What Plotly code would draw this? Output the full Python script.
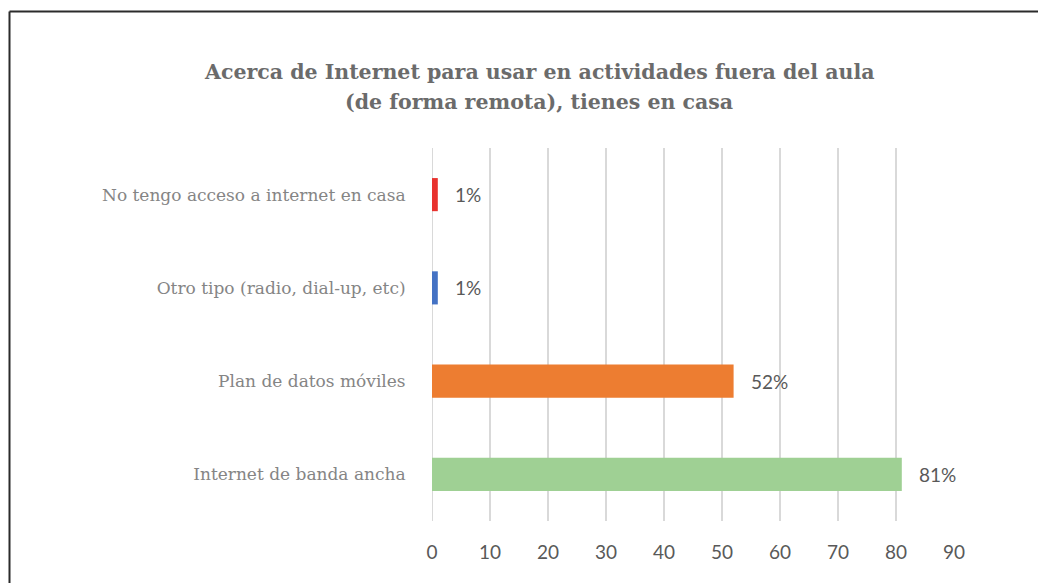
import plotly.graph_objects as go

# Survey answers, listed top to bottom
categories = [
    "No tengo acceso a internet en casa",
    "Otro tipo (radio, dial-up, etc)",
    "Plan de datos móviles",
    "Internet de banda ancha",
]
values = [1, 1, 52, 81]
bar_colors = ["#e8322e", "#4472c4", "#ed7d31", "#9fd094"]
x_ticks = [0, 10, 20, 30, 40, 50, 60, 70, 80, 90]
title_lines = [
    "Acerca de Internet para usar en actividades fuera del aula",
    "(de forma remota), tienes en casa",
]

W, H = 1038, 583
L, R, T, B = 432, 84, 148, 62
plot_w = W - L - R
plot_h = H - T - B


def px_to_paper_x(px):
    return (px - L) / plot_w


def px_to_paper_y(py):
    return (H - B - py) / plot_h


fig = go.Figure(
    go.Bar(
        x=values,
        y=categories,
        orientation="h",
        marker=dict(color=bar_colors, line=dict(width=0)),
        width=0.355,
        hoverinfo="x+y",
    )
)

# Percentage labels beside each bar
for cat, val in zip(categories, values):
    fig.add_annotation(
        x=val, y=cat, xref="x", yref="y",
        text=f"{val}%", showarrow=False,
        xanchor="left", xshift=15,
        font=dict(family="Lato, Open Sans, sans-serif", size=19, color="#595959"),
    )

# Title, one annotation per line
for line, ypx in zip(title_lines, [72, 102]):
    fig.add_annotation(
        x=px_to_paper_x(539), y=px_to_paper_y(ypx), xref="paper", yref="paper",
        text=f"<b>{line}</b>",
        showarrow=False, xanchor="center", yanchor="middle",
        font=dict(family="DejaVu Serif, serif", size=20.5, color="#6b6b6b"),
    )

# Frame around the chart area (left and top edges)
fig.add_shape(
    type="line", xref="paper", yref="paper",
    x0=px_to_paper_x(9.5), y0=px_to_paper_y(H + 5),
    x1=px_to_paper_x(9.5), y1=px_to_paper_y(11.5),
    line=dict(color="#2b2b2b", width=2),
)
fig.add_shape(
    type="line", xref="paper", yref="paper",
    x0=px_to_paper_x(9.5), y0=px_to_paper_y(11.5),
    x1=px_to_paper_x(W + 5), y1=px_to_paper_y(11.5),
    line=dict(color="#2b2b2b", width=2),
)

fig.update_layout(
    width=W, height=H,
    margin=dict(l=L, r=R, t=T, b=B),
    paper_bgcolor="white", plot_bgcolor="white",
    showlegend=False,
    bargap=0.645,
    xaxis=dict(
        range=[0, 90], tickvals=x_ticks, ticktext=[str(t) for t in x_ticks],
        showgrid=True, gridcolor="#d9d9d9", gridwidth=2,
        zeroline=False, showline=False,
        ticks="outside", ticklen=14, tickcolor="rgba(0,0,0,0)",
        tickfont=dict(family="Lato, Open Sans, sans-serif", size=19, color="#595959"),
        fixedrange=True,
    ),
    yaxis=dict(
        categoryorder="array", categoryarray=categories[::-1],
        showgrid=False, zeroline=False, showline=False,
        ticks="outside", ticklen=22, tickcolor="rgba(0,0,0,0)",
        tickfont=dict(family="DejaVu Serif, serif", size=17, color="#858585"),
        fixedrange=True,
    ),
)

# Gridline at 0 drawn like the others
fig.add_shape(
    type="line", xref="x", yref="paper", x0=0, x1=0, y0=0, y1=1,
    line=dict(color="#d9d9d9", width=2), layer="below",
)

fig.write_html("out.html")
